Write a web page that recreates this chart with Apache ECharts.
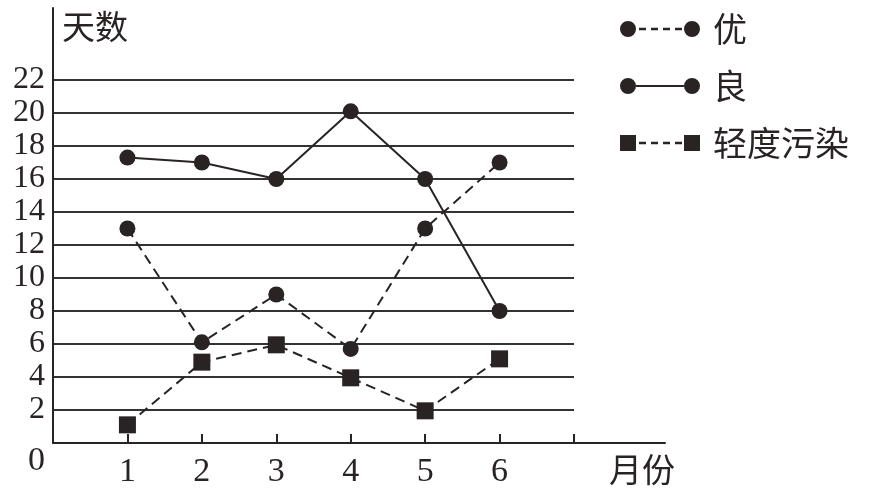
<!DOCTYPE html>
<html><head><meta charset="utf-8">
<script src="https://cdn.jsdelivr.net/npm/echarts@6/dist/echarts.min.js"></script>
<style>html,body{margin:0;padding:0;background:#fff}#c{width:872px;height:496px}</style>
</head><body><div id="c"></div>
<script>
var months = [1, 2, 3, 4, 5, 6];
var you = [13, 6.1, 9, 5.7, 13, 17];
var liang = [17.3, 17, 16, 20.1, 16, 8];
var wuran = [1.1, 4.9, 5.95, 3.95, 1.95, 5.1];
var yTicks = [2, 4, 6, 8, 10, 12, 14, 16, 18, 20, 22];
var originTick = [0];
var seriesNames = ['优', '良', '轻度污染'];

var ink = '#2a2323';
var numFont = '"Liberation Serif", "Times New Roman", serif';
var cjkFont = '"Noto Sans CJK SC", sans-serif';

function pairs(vals) { return months.map(function (m, i) { return [m, vals[i]]; }); }

var dashes = 'M19,6.8H26V9.2H19Z M31,6.8H38V9.2H31Z M43,6.8H50V9.2H43Z M55,6.8H62V9.2H55Z';
var circles = 'M0,8A8,8 0 1,1 16,8A8,8 0 1,1 0,8Z M64,8A8,8 0 1,1 80,8A8,8 0 1,1 64,8Z';
var squares = 'M0,0H16V16H0Z M64,0H80V16H64Z';
var iconYou = 'path://' + circles + ' ' + dashes;
var iconLiang = 'path://' + circles + ' M16,6.9H64V9.1H16Z';
var iconWuran = 'path://' + squares + ' ' + dashes;

var chart = echarts.init(document.getElementById('c'), null, {renderer: 'canvas'});
chart.setOption({
  animation: false,
  backgroundColor: '#fff',
  grid: [
    {left: 53, top: 80, right: 298, bottom: 53},
    {left: 53, top: 8, right: 207, bottom: 53}
  ],
  xAxis: [
    {
      gridIndex: 0, type: 'value', min: 0, max: 7, interval: 1,
      axisLine: {show: false},
      axisTick: {show: true, inside: true, length: 9, customValues: [1, 2, 3, 4, 5, 6, 7],
                 lineStyle: {color: ink, width: 2}},
      axisLabel: {show: true, customValues: months, margin: 12,
                  fontFamily: numFont, fontSize: 34, color: ink},
      splitLine: {show: false}
    },
    {
      gridIndex: 1, type: 'value', min: 0, max: 1,
      axisLine: {show: true, lineStyle: {color: ink, width: 2}},
      axisTick: {show: false},
      axisLabel: {show: true, customValues: originTick, margin: 1, align: 'right',
                  padding: [0, 8, 0, 0], fontFamily: numFont, fontSize: 34, color: ink},
      splitLine: {show: false},
      name: '月份', nameLocation: 'end', nameGap: -23,
      nameTextStyle: {fontFamily: cjkFont, fontSize: 33, color: ink, align: 'center',
                      verticalAlign: 'top', padding: [10, 0, 0, 0]}
    }
  ],
  yAxis: [
    {
      gridIndex: 0, type: 'value', min: 0, max: 22, interval: 2,
      axisLine: {show: false}, axisTick: {show: false},
      axisLabel: {
        show: true, margin: 8, fontFamily: numFont, fontSize: 32, color: ink,
        customValues: yTicks, hideOverlap: false
      },
      splitLine: {show: true, lineStyle: {color: '#333', width: 1.8}}
    },
    {
      gridIndex: 1, type: 'value', min: 0, max: 1,
      axisLine: {show: true, lineStyle: {color: ink, width: 2}},
      axisTick: {show: false}, axisLabel: {show: false}, splitLine: {show: false},
      name: '天数', nameLocation: 'end', nameGap: -18,
      nameTextStyle: {fontFamily: cjkFont, fontSize: 33, color: ink, align: 'left',
                      verticalAlign: 'middle', padding: [0, 0, 0, 9]}
    }
  ],
  legend: {
    orient: 'vertical', left: 615, top: 6, itemWidth: 80, itemHeight: 16, itemGap: 21,
    textStyle: {fontFamily: cjkFont, fontSize: 34, lineHeight: 36, color: ink, padding: [0, 0, 0, 8]},
    itemStyle: {borderWidth: 0},
    data: [
      {name: seriesNames[0], icon: iconYou},
      {name: seriesNames[1], icon: iconLiang},
      {name: seriesNames[2], icon: iconWuran}
    ]
  },
  series: [
    {
      name: seriesNames[0], type: 'line', xAxisIndex: 0, yAxisIndex: 0,
      data: pairs(you), symbol: 'circle', symbolSize: 16,
      itemStyle: {color: ink}, lineStyle: {color: ink, width: 2, type: [10, 6]}
    },
    {
      name: seriesNames[1], type: 'line', xAxisIndex: 0, yAxisIndex: 0,
      data: pairs(liang), symbol: 'circle', symbolSize: 16,
      itemStyle: {color: ink}, lineStyle: {color: ink, width: 2, type: 'solid'}
    },
    {
      name: seriesNames[2], type: 'line', xAxisIndex: 0, yAxisIndex: 0,
      data: pairs(wuran), symbol: 'rect', symbolSize: 17,
      itemStyle: {color: ink}, lineStyle: {color: ink, width: 2, type: [10, 6]}
    }
  ]
});
</script>
</body></html>
